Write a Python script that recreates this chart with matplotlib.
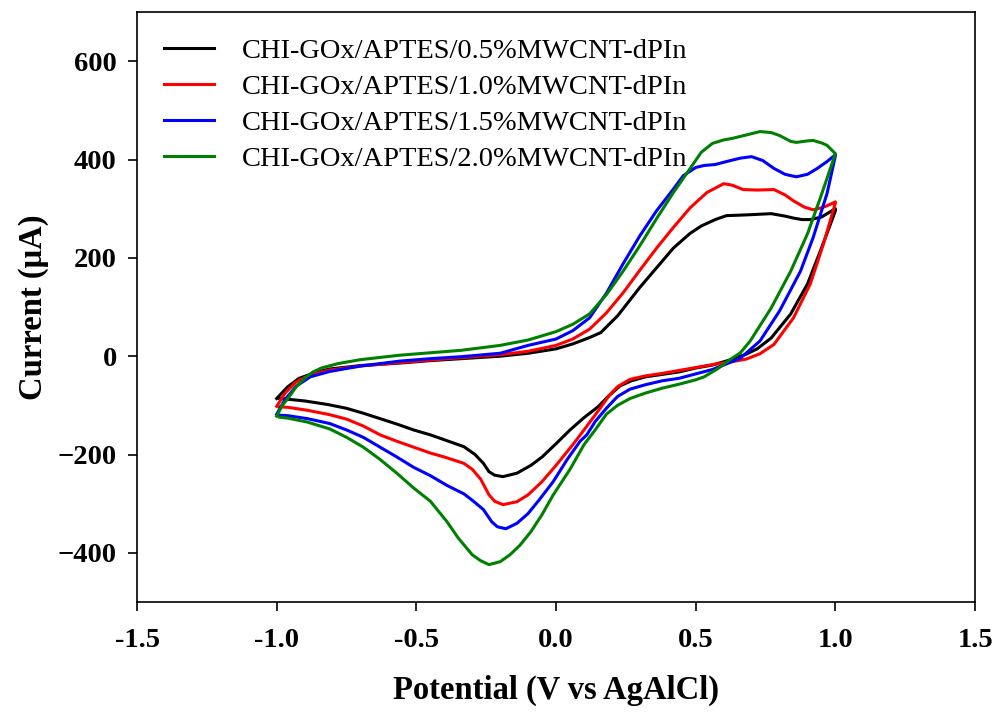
import matplotlib
matplotlib.use("Agg")
import matplotlib.pyplot as plt

labels = [
    "CHI-GOx/APTES/0.5%MWCNT-dPIn",
    "CHI-GOx/APTES/1.0%MWCNT-dPIn",
    "CHI-GOx/APTES/1.5%MWCNT-dPIn",
    "CHI-GOx/APTES/2.0%MWCNT-dPIn",
]
colors = ["black", "red", "blue", "green"]

# potential (V) and current (uA), forward scan then reverse scan
v_05 = [-1.0, -0.96, -0.92, -0.86, -0.81, -0.7, -0.56, -0.45, -0.34, -0.2, -0.1, 0.0, 0.06, 0.12, 0.16,
        0.22, 0.30, 0.36, 0.42, 0.48, 0.52, 0.57, 0.61, 0.66, 0.70, 0.77, 0.82, 0.85, 0.88, 0.91, 0.95,
        0.97, 1.0,
        1.0, 0.97, 0.946, 0.90, 0.84, 0.77, 0.72, 0.68, 0.62, 0.56, 0.50, 0.44, 0.38, 0.32, 0.27, 0.23,
        0.19, 0.15, 0.10, 0.05, 0.0, -0.05, -0.09, -0.14, -0.19, -0.22, -0.24, -0.26, -0.29, -0.33, -0.40,
        -0.45, -0.51, -0.57, -0.63, -0.69, -0.75, -0.82, -0.90, -0.97, -0.99]
i_05 = [-86, -62, -45, -33, -26, -19, -14, -9, -5, 0, 6, 15, 25, 38, 48,
        82, 140, 180, 220, 250, 265, 278, 286, 287, 288, 290, 285, 281, 278, 278, 283,
        290, 300,
        296, 250, 214, 147, 86, 37, 15, 4, -8, -18, -24, -32, -37, -42, -50, -60,
        -80, -103, -125, -150, -178, -205, -222, -238, -245, -242, -235, -218, -200, -184, -170,
        -160, -150, -138, -127, -116, -106, -98, -91, -87, -86]

v_10 = [-1.0, -0.97, -0.93, -0.88, -0.81, -0.7, -0.56, -0.45, -0.34, -0.2, -0.1, 0.0, 0.06, 0.12, 0.18,
        0.24, 0.30, 0.36, 0.42, 0.48, 0.54, 0.60, 0.63, 0.67, 0.72, 0.78, 0.82, 0.85, 0.89, 0.92, 0.95,
        0.97, 1.0,
        1.0, 0.957, 0.91, 0.85, 0.78, 0.73, 0.68, 0.62, 0.56, 0.50, 0.44, 0.38, 0.32, 0.265, 0.22, 0.19,
        0.15, 0.10, 0.06, 0.0, -0.05, -0.10, -0.14, -0.19, -0.22, -0.24, -0.27, -0.30, -0.33, -0.40, -0.45,
        -0.51, -0.57, -0.63, -0.69, -0.75, -0.81, -0.89, -0.96, -0.99]
i_10 = [-102, -75, -52, -38, -28, -20, -13, -8, -3, 3, 10, 22, 35, 55, 88,
        129, 175, 220, 262, 302, 333, 351, 348, 339, 338, 339, 328, 316, 303, 298, 302,
        306, 314,
        312, 228, 147, 78, 24, 5, -6, -12, -17, -23, -29, -35, -40, -47, -62, -80,
        -112, -150, -180, -222, -255, -282, -296, -302, -295, -282, -250, -230, -218, -205, -197,
        -185, -173, -160, -142, -128, -119, -110, -104, -103]

v_15 = [-1.0, -0.97, -0.93, -0.88, -0.81, -0.7, -0.56, -0.45, -0.34, -0.2, -0.1, 0.0, 0.06, 0.12, 0.18,
        0.24, 0.30, 0.36, 0.42, 0.455, 0.50, 0.53, 0.57, 0.61, 0.66, 0.70, 0.74, 0.78, 0.82, 0.86, 0.90,
        0.935, 0.97, 1.0,
        1.0, 0.97, 0.92, 0.875, 0.80, 0.73, 0.66, 0.60, 0.56, 0.50, 0.44, 0.38, 0.32, 0.265, 0.22, 0.18,
        0.14, 0.11, 0.086, 0.04, -0.01, -0.06, -0.10, -0.14, -0.18, -0.21, -0.23, -0.26, -0.30, -0.33,
        -0.39, -0.45, -0.51, -0.57, -0.63, -0.69, -0.75, -0.81, -0.89, -0.96, -0.99]
i_15 = [-118, -88, -61, -42, -31, -20, -10, -5, -1, 6, 22, 35, 52, 78, 128,
        188, 245, 296, 340, 367, 384, 388, 390, 396, 403, 406, 398, 382, 370, 365, 370,
        382, 396, 410,
        408, 331, 241, 173, 92, 31, -4, -18, -27, -36, -45, -50, -58, -67, -82, -106,
        -133, -160, -173, -210, -255, -292, -320, -340, -351, -347, -337, -312, -293, -280,
        -263, -243, -226, -205, -185, -165, -150, -137, -127, -121, -120]

v_20 = [-1.0, -0.98, -0.96, -0.93, -0.90, -0.87, -0.84, -0.78, -0.7, -0.56, -0.45, -0.34, -0.2, -0.1, 0.0,
        0.06, 0.12, 0.18, 0.24, 0.30, 0.36, 0.42, 0.48, 0.52, 0.56, 0.60, 0.63, 0.68, 0.73, 0.77, 0.80,
        0.84, 0.86, 0.90, 0.92, 0.95, 0.97, 1.0,
        0.946, 0.90, 0.84, 0.77, 0.695, 0.66, 0.62, 0.58, 0.53, 0.50, 0.44, 0.38, 0.32, 0.265, 0.22, 0.18,
        0.14, 0.10, 0.05, -0.01, -0.05, -0.09, -0.13, -0.165, -0.20, -0.24, -0.27, -0.30, -0.35, -0.39,
        -0.45, -0.51, -0.57, -0.63, -0.69, -0.75, -0.81, -0.89, -0.96, -0.99]
i_20 = [-122, -100, -86, -62, -45, -32, -24, -15, -7, 2, 7, 12, 22, 33, 50,
        65, 86, 125, 173, 225, 280, 333, 382, 415, 433, 440, 443, 450, 457, 455, 449,
        437, 435, 438, 439, 434, 429, 412,
        322, 249, 173, 98, 31, 7, -8, -25, -42, -48, -57, -65, -75, -86, -100, -118,
        -150, -180, -230, -282, -322, -357, -385, -404, -418, -424, -416, -404, -370, -337,
        -295, -268, -238, -210, -185, -165, -148, -134, -126, -124]

xticks = [-1.5, -1.0, -0.5, 0.0, 0.5, 1.0, 1.5]
yticks = [-400, -200, 0, 200, 400, 600]


def main():
    plt.rcParams["font.family"] = ["Liberation Serif", "DejaVu Serif"]

    fig = plt.figure(figsize=(9.95, 7.13), dpi=100)
    ax = fig.add_axes([0.1377, 0.1557, 0.8423, 0.8273])

    series = [(v_05, i_05), (v_10, i_10), (v_15, i_15), (v_20, i_20)]
    for (v, i), c, lab in zip(series, colors, labels):
        ax.plot(v, i, color=c, lw=2.2, label=lab, solid_joinstyle="round")

    ax.set_xlim(-1.5, 1.5)
    ax.set_ylim(-500, 700)
    ax.set_xticks(xticks)
    ax.set_xticklabels([f"{t:.1f}" for t in xticks])
    ax.set_yticks(yticks)
    ax.tick_params(direction="out", length=6.5, width=1.2, top=False, right=False,
                   labelsize=20.5)
    ax.tick_params(axis="x", pad=12)
    ax.tick_params(axis="y", pad=8)
    for lbl in ax.get_xticklabels() + ax.get_yticklabels():
        lbl.set_fontweight("bold")
    for sp in ax.spines.values():
        sp.set_linewidth(1.2)

    ax.set_xlabel("Potential (V vs AgAlCl)", fontsize=23.5, fontweight="bold", labelpad=16)
    ax.set_ylabel("Current (\u03bcA)", fontsize=23.5, fontweight="bold", labelpad=6)

    ax.legend(loc="upper left", frameon=False, fontsize=20.5, handlelength=1.75,
              handletextpad=1.0, labelspacing=0.355, borderpad=0,
              bbox_to_anchor=(0.015, 0.98))

    fig.savefig("out.png", dpi=100)


if __name__ == "__main__":
    main()
